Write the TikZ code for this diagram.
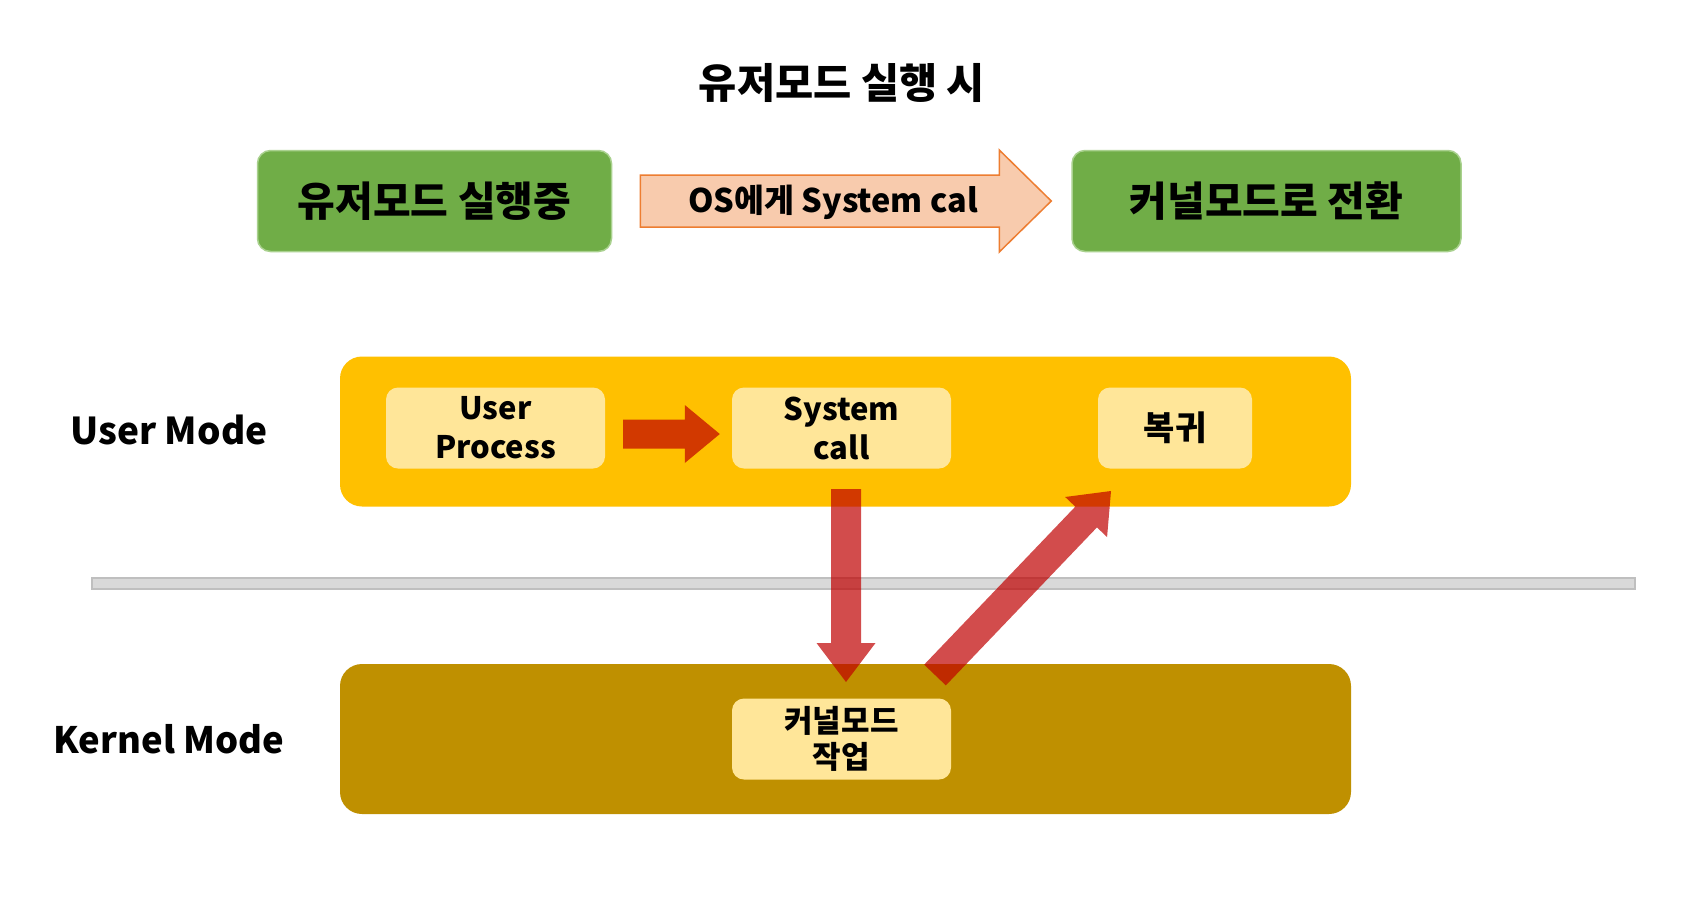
\documentclass[tikz,border=0pt]{standalone}
\usepackage{fontspec}
\setmainfont{Noto Sans CJK KR}
\usetikzlibrary{calc}
\definecolor{gfill}{HTML}{70AD47}
\definecolor{gline}{HTML}{A9D18E}
\definecolor{ofill}{HTML}{F8CBAD}
\definecolor{oline}{HTML}{ED7D31}
\definecolor{yfill}{HTML}{FFC000}
\definecolor{lfill}{HTML}{FFE699}
\definecolor{mfill}{HTML}{BF9000}
\definecolor{barfill}{HTML}{D9D9D9}
\definecolor{barline}{HTML}{BFBFBF}
\definecolor{rarrow}{HTML}{C00000}
\tikzset{
  greenbox/.style={fill=gfill, draw=gline, line width=1.5pt, rounded corners=13pt, minimum width=354pt, minimum height=101pt, inner sep=0pt, font=\fontsize{41}{46}\selectfont\bfseries},
  lightbox/.style={fill=lfill, rounded corners=12pt, minimum height=81pt, inner sep=0pt, align=center},
  modebox/.style={rounded corners=22pt, minimum width=1011pt, minimum height=150pt, inner sep=0pt},
  redarrow/.style={fill=rarrow, fill opacity=0.7},
  modelabel/.style={font=\fontsize{36.7}{44}\selectfont\bfseries, inner sep=0pt}
}
\begin{document}
\begin{tikzpicture}[x=1pt,y=-1pt]
\useasboundingbox[fill=white] (0,0) rectangle (1684,919);
% title
\node[font=\fontsize{41.5}{46}\selectfont\bfseries, inner sep=0pt] (title) at (842,83) {유저모드 실행 시};
% top row
\node[greenbox] (g1) at (434.5,201) {유저모드 실행중};
\node[greenbox, minimum width=389pt] (g2) at (1266.5,201) {커널모드로 전환};
\coordinate (oa0) at ($(g1.east)+(28,0)$);
\coordinate (oa1) at ($(g2.west)+(-20,0)$);
\fill[ofill, draw=oline, line width=1.5pt] ($(oa0)+(0,-26)$) -- ($(oa1)+(-52,-26)$) -- ($(oa1)+(-52,-51)$) -- (oa1) -- ($(oa1)+(-52,51)$) -- ($(oa1)+(-52,26)$) -- ($(oa0)+(0,26)$) -- cycle;
\node[font=\fontsize{32.5}{38}\selectfont\bfseries, inner sep=0pt] (oat) at (833,202) {OS에게 System cal};
% mode boxes
\node[modebox, fill=yfill] (um) at (845.5,431.5) {};
\node[modebox, fill=mfill] (km) at (845.5,739) {};
\node[modelabel, font=\fontsize{37}{44}\selectfont\bfseries] (uml) at (169,430) {User Mode};
\node[modelabel, font=\fontsize{36.4}{44}\selectfont\bfseries] (kml) at (169,739) {Kernel Mode};
% separator bar
\fill[barfill, draw=barline, line width=2pt] (92,578) rectangle (1635,589);
% inner boxes
\node[lightbox, minimum width=219pt, font=\fontsize{31}{39}\selectfont\bfseries] (up) at (495.5,428) {User\\Process};
\node[lightbox, minimum width=219pt, font=\fontsize{31}{39}\selectfont\bfseries] (sc) at (841.5,428) {System\\call};
\node[lightbox, minimum width=154pt, font=\fontsize{34}{40}\selectfont\bfseries] (bk) at (1175,428) {복귀};
\node[lightbox, minimum width=219pt, font=\fontsize{31}{35.5}\selectfont\bfseries] (kw) at (841.5,739) {커널모드\\작업};
% horizontal red arrow
\coordinate (h0) at ($(up.east)+(18,6)$);
\coordinate (h1) at ($(sc.west)+(-12,6)$);
\fill[redarrow] ($(h0)+(0,-14.5)$) -- ($(h1)+(-35,-14.5)$) -- ($(h1)+(-35,-29)$) -- (h1) -- ($(h1)+(-35,29)$) -- ($(h1)+(-35,14.5)$) -- ($(h0)+(0,14.5)$) -- cycle;
% down arrow
\coordinate (d0) at (846,489);
\coordinate (d1) at (846,682);
\fill[redarrow] ($(d0)+(-15,0)$) -- ($(d1)+(-15,-39)$) -- ($(d1)+(-29.5,-39)$) -- (d1) -- ($(d1)+(29.5,-39)$) -- ($(d1)+(15,-39)$) -- ($(d0)+(15,0)$) -- cycle;
% diagonal arrow
\coordinate (t0) at (935,675);
\coordinate (t1) at (1111,491);
\coordinate (tb) at ($(t1)!36pt!(t0)$);
\fill[redarrow] ($(t0)!15pt!90:(t1)$) -- ($(tb)!15pt!90:(t1)$) -- ($(tb)!29pt!90:(t1)$) -- (t1) -- ($(tb)!29pt!-90:(t1)$) -- ($(tb)!15pt!-90:(t1)$) -- ($(t0)!15pt!-90:(t1)$) -- cycle;
\end{tikzpicture}
\end{document}
